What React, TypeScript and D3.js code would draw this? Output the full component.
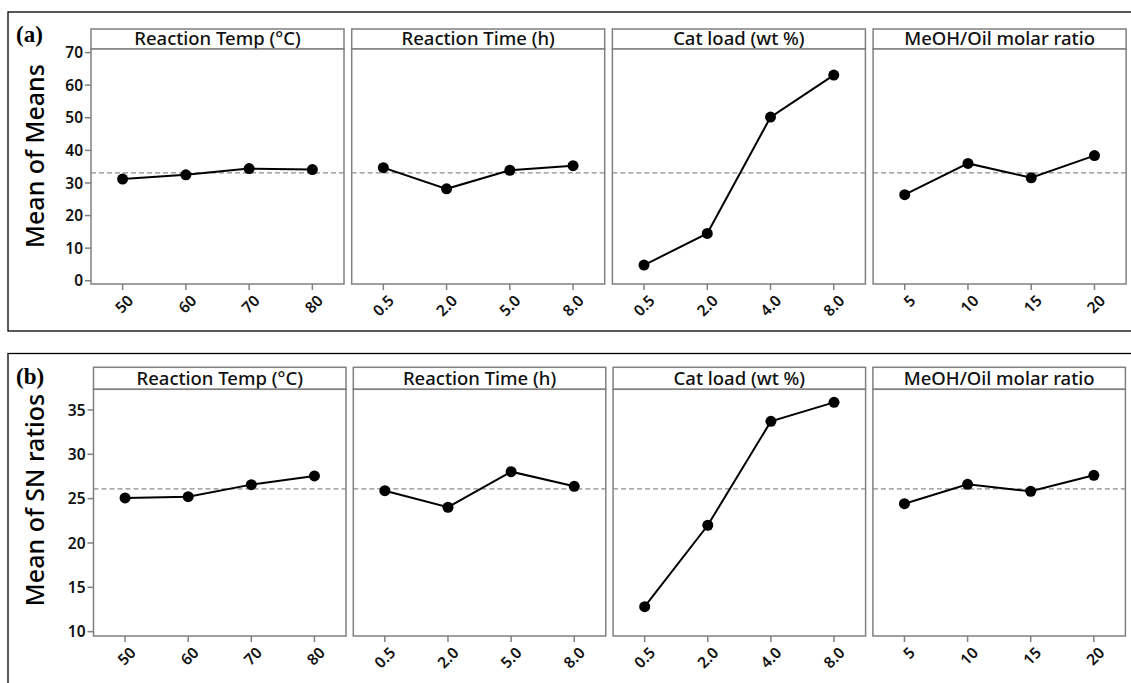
import React from "react";
import * as d3 from "d3";

const factors = ["Reaction Temp (°C)", "Reaction Time (h)", "Cat load (wt %)", "MeOH/Oil molar ratio"];
const levelsTemp = ["50", "60", "70", "80"];
const levelsTime = ["0.5", "2.0", "5.0", "8.0"];
const levelsCat = ["0.5", "2.0", "4.0", "8.0"];
const levelsRatio = ["5", "10", "15", "20"];
const levels = [levelsTemp, levelsTime, levelsCat, levelsRatio];

const meansTemp = [31.2, 32.5, 34.4, 34.1];
const meansTime = [34.7, 28.2, 33.9, 35.3];
const meansCat = [4.8, 14.5, 50.2, 63.1];
const meansRatio = [26.4, 36.0, 31.6, 38.4];
const meansData = [meansTemp, meansTime, meansCat, meansRatio];

const snTemp = [25.08, 25.22, 26.58, 27.56];
const snTime = [25.9, 24.03, 28.04, 26.39];
const snCat = [12.82, 22.0, 33.72, 35.86];
const snRatio = [24.43, 26.61, 25.83, 27.63];
const snData = [snTemp, snTime, snCat, snRatio];

const meansTicks = [0, 10, 20, 30, 40, 50, 60, 70];
const snTicks = [10, 15, 20, 25, 30, 35];

const FONT = "'Noto Sans', 'Open Sans', sans-serif";
const GRAY = "#808080";

type BlockProps = {
  label: string;
  yTitle: string;
  data: number[][];
  ticks: number[];
  domain: [number, number];
  frameTop: number;
  frameBottom: number;
  stripTop: number;
  plotTop: number;
  plotBottom: number;
  x0: number;
  panelW: number;
  gap: number;
  yTitleY: number;
};

function Block(p: BlockProps) {
  const y = d3.scaleLinear().domain(p.domain).range([p.plotBottom, p.plotTop]);
  const grand = d3.mean(p.data.flat()) as number;
  const line = d3.line<[number, number]>().x((d) => d[0]).y((d) => d[1]);
  return (
    <g>
      <rect x={8} y={p.frameTop} width={1140} height={p.frameBottom - p.frameTop} fill="none" stroke="#000" strokeWidth={1.3} />
      <text x={16} y={p.frameTop + 30} fontFamily="'Liberation Serif', 'Times New Roman', serif" fontWeight="bold" fontSize={23} fill="#000">{p.label}</text>
      <text transform={`translate(${44},${p.yTitleY}) rotate(-90)`} textAnchor="middle" fontFamily={FONT} fontWeight={500} fontSize={25} fill="#000">{p.yTitle}</text>
      {p.ticks.map((t) => (
        <g key={t}>
          <line x1={p.x0 - 6} x2={p.x0} y1={y(t)} y2={y(t)} stroke={GRAY} strokeWidth={1.5} />
          <text x={p.x0 - 8} y={y(t)} dy="0.36em" textAnchor="end" fontFamily={FONT} fontWeight={600} fontSize={15.5} fill="#111">{t}</text>
        </g>
      ))}
      {factors.map((f, i) => {
        const left = p.x0 + i * (p.panelW + p.gap);
        const right = left + p.panelW;
        const x = d3.scalePoint<string>().domain(levels[i]).range([left, right]).padding(0.5);
        const pts: [number, number][] = p.data[i].map((v, j) => [x(levels[i][j]) as number, y(v)]);
        return (
          <g key={f}>
            <rect x={left} y={p.stripTop} width={p.panelW} height={p.plotTop - p.stripTop} fill="#fff" stroke={GRAY} strokeWidth={1.5} />
            <text x={(left + right) / 2} y={p.plotTop - 4.5} textAnchor="middle" fontFamily={FONT} fontWeight={500} fontSize={18.5} fill="#111">{f}</text>
            <rect x={left} y={p.plotTop} width={p.panelW} height={p.plotBottom - p.plotTop} fill="#fff" stroke={GRAY} strokeWidth={1.5} />
            <line x1={left} x2={right} y1={y(grand)} y2={y(grand)} stroke="#8c8c8c" strokeWidth={1.2} strokeDasharray="5,3" />
            <path d={line(pts) as string} fill="none" stroke="#000" strokeWidth={2} />
            {pts.map((pt, j) => (
              <circle key={j} cx={pt[0]} cy={pt[1]} r={5.5} fill="#000" />
            ))}
            {levels[i].map((lv) => {
              const xx = x(lv) as number;
              return (
                <g key={lv}>
                  <line x1={xx} x2={xx} y1={p.plotBottom} y2={p.plotBottom + 6} stroke={GRAY} strokeWidth={1.5} />
                  <text transform={`translate(${xx + 4},${p.plotBottom + 10}) rotate(-45)`} textAnchor="end" dy="0.7em" fontFamily={FONT} fontWeight={600} fontSize={15.5} fill="#111">{lv}</text>
                </g>
              );
            })}
          </g>
        );
      })}
    </g>
  );
}

export default function App() {
  return (
    <div style={{ position: "absolute", left: 0, top: 0 }}>
      <svg width={1131} height={683} style={{ display: "block", background: "#fff" }}>
        <Block
          label="(a)"
          yTitle="Mean of Means"
          data={meansData}
          ticks={meansTicks}
          domain={[-1.0, 71.1]}
          frameTop={12}
          frameBottom={331}
          stripTop={29}
          plotTop={49}
          plotBottom={284}
          x0={91}
          panelW={253}
          gap={7.7}
          yTitleY={156}
        />
        <Block
          label="(b)"
          yTitle="Mean of SN ratios"
          data={snData}
          ticks={snTicks}
          domain={[9.51, 37.33]}
          frameTop={353.5}
          frameBottom={700}
          stripTop={367.3}
          plotTop={389.3}
          plotBottom={636}
          x0={93.5}
          panelW={252.5}
          gap={7.3}
          yTitleY={500}
        />
      </svg>
    </div>
  );
}
